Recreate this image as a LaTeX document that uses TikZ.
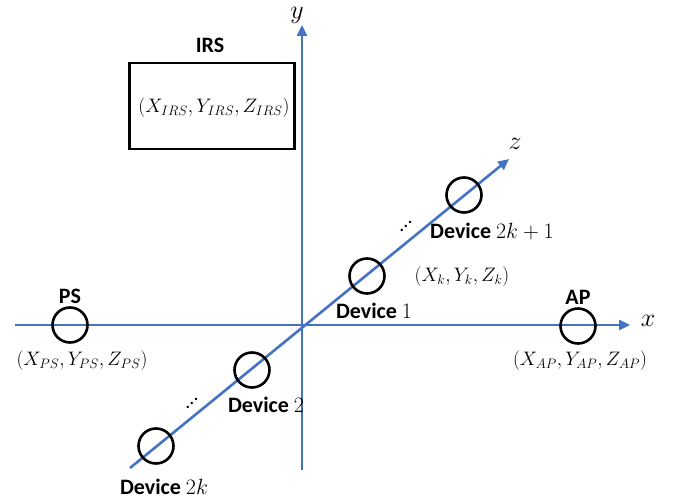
\RequirePackage{fix-cm}
\documentclass[tikz,border=0pt]{standalone}
\usepackage{fontspec}
\setmainfont{Carlito}
\usetikzlibrary{arrows.meta}
\definecolor{axisblue}{RGB}{68,114,196}
\newcommand{\updots}{\raisebox{0pt}{.}\kern-1pt\raisebox{4pt}{.}\kern-1pt\raisebox{8pt}{.}}
\tikzset{
  axis/.style={draw=axisblue, line width=2.6pt, -{Triangle[length=11pt,width=10pt]}},
  dev/.style={circle, draw=black, line width=2.6pt, minimum size=35pt, inner sep=0pt},
  lbl/.style={font=\fontsize{22}{24}\selectfont\bfseries, inner sep=0pt},
  crd/.style={font=\fontsize{19.5}{22}\selectfont, inner sep=0pt},
  dotlbl/.style={font=\fontsize{20}{22}\selectfont, inner sep=0pt},
  axlbl/.style={font=\fontsize{26}{28}\selectfont, inner sep=0pt}
}
\begin{document}
\begin{tikzpicture}[x=1pt,y=-1pt]
\useasboundingbox (0,0) rectangle (683,500);

% axes
\coordinate (xs) at (15,325);
\coordinate (xe) at (630,325);
\coordinate (ys) at (302,470);
\coordinate (ye) at (302,25);
\coordinate (zs) at (130,468);
\coordinate (ze) at (509,159);
\draw[axis] (xs) -- (xe);
\draw[axis] (ys) -- (ye);
\draw[axis] (zs) -- (ze);
\node[axlbl] (xl) at (648,321) {$x$};
\node[axlbl, anchor=base] (yl) at (297,19) {$y$};
\node[axlbl] (zl) at (515,144) {$z$};

% IRS
\node[draw=black, line width=2.4pt, minimum width=165pt, minimum height=86pt, inner sep=0pt] (irs) at (212,106) {};
\node[crd] (irsc) at (214,108) {$(X_{IRS},Y_{IRS},Z_{IRS})$};
\node[lbl] (irsl) at (210,45) {IRS};

% PS and AP
\node[dev] (ps) at (70,325) {};
\node[lbl] (psl) at (70,296) {PS};
\node[crd] (psc) at (82,361) {$(X_{PS},Y_{PS},Z_{PS})$};
\node[dev] (ap) at (578,326) {};
\node[lbl] (apl) at (578,297) {AP};
\node[crd] (apc) at (580,361) {$(X_{AP},Y_{AP},Z_{AP})$};

% devices along z
\node[dev] (d1) at (367,276) {};
\node[lbl] (d1l) at (374,311) {Device $1$};
\node[dev] (d3) at (464,195) {};
\node[lbl] (d3l) at (492,231) {Device $2k+1$};
\node[crd] (dk) at (462,277) {$(X_k,Y_k,Z_k)$};
\node[dotlbl] (dots1) at (406,226) {\updots};
\node[dev] (d2) at (252,370) {};
\node[lbl] (d2l) at (266,405) {Device $2$};
\node[dev] (d4) at (156,446) {};
\node[lbl] (d4l) at (164,487) {Device $2k$};
\node[dotlbl] (dots2) at (192,403) {\updots};
\end{tikzpicture}
\end{document}
